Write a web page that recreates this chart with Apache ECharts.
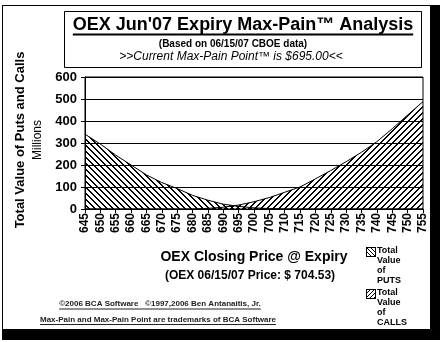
<!DOCTYPE html>
<html>
<head>
<meta charset="utf-8">
<script src="https://cdn.jsdelivr.net/npm/echarts@6/dist/echarts.min.js"></script>
<style>
html,body{margin:0;padding:0;background:#fff;}
#chart{width:442px;height:342px;}
</style>
</head>
<body>
<div id="chart"></div>
<script>
// ---- data ----
const categories = ['645','650','655','660','665','670','675','680','685','690','695','700','705','710','715','720','725','730','735','740','745','750','755'];
const putsValues = [340, 295, 245, 200, 155, 120, 93, 62, 40, 22, 12, 5, 2, 0, 0, 0, 0, 0, 0, 0, 0, 0, 0];
const callsValues = [0, 0, 0, 0, 0, 0, 0, 0, 3, 8, 18, 33, 52, 76, 100, 137, 175, 215, 258, 306, 365, 427, 488];
const yTicks = [0, 100, 200, 300, 400, 500, 600];

const FONT = "'Liberation Sans', Arial, sans-serif";

function hatch(down, size, bg, border, period, thick) {
  const c = document.createElement('canvas');
  c.width = size; c.height = size;
  const g = c.getContext('2d');
  if (bg) { g.fillStyle = bg; g.fillRect(0, 0, size, size); }
  g.fillStyle = '#000';
  const p = period;
  for (let y = 0; y < size; y++) {
    for (let x = 0; x < size; x++) {
      const d = down ? ((x - y) % p + p) % p : ((x + y) % p + p) % p;
      if (d < thick) g.fillRect(x, y, 1, 1);
    }
  }
  if (border) { g.strokeStyle = '#000'; g.lineWidth = 1; g.strokeRect(0.5, 0.5, size - 1, size - 1); }
  return c;
}
const putsPattern = hatch(true, 6, null, false, 6, 2);
const callsPattern = hatch(false, 6, null, false, 6, 2);
const putsIcon = hatch(true, 10, '#fff', true, 4, 1).toDataURL();
const callsIcon = hatch(false, 10, '#fff', true, 4, 1).toDataURL();

const mctx = document.createElement('canvas').getContext('2d');
function tw(text, font) { mctx.font = font; return mctx.measureText(text).width; }

function ctext(text, x, y, font, extra, color) {
  return Object.assign({ type: 'text', z: 10, style: { text: text, x: x, y: y, font: font, fill: color || '#000', align: 'center', verticalAlign: 'middle' } }, extra || {});
}
function underline(text, cx, y, font, w, color) {
  const width = tw(text, font);
  return { type: 'line', z: 10, shape: { x1: cx - width / 2, y1: y, x2: cx + width / 2, y2: y }, style: { stroke: color || '#000', lineWidth: w || 1 } };
}

const titleFont = 'bold 18px ' + FONT;
const titleText = 'OEX Jun\'07 Expiry Max-Pain\u2122 Analysis';
const foot1 = '\u00A92006 BCA Software   \u00A91997,2006 Ben Antanaitis, Jr.';
const foot2 = 'Max-Pain and Max-Pain Point are trademarks of BCA Software';
const footFont = 'bold 8px ' + FONT;

const graphics = [
  { type: 'rect', z: -10, shape: { x: 2, y: 5, width: 438, height: 335 }, style: { fill: '#000' } },
  { type: 'rect', z: -9, shape: { x: 2.5, y: 5.5, width: 428, height: 324 }, style: { fill: '#fff', stroke: '#000', lineWidth: 1 } },
  { type: 'rect', z: 5, shape: { x: 64.5, y: 11.5, width: 357, height: 56 }, style: { fill: '#fff', stroke: '#000', lineWidth: 1 } },
  ctext(titleText, 243, 25, titleFont),
  underline(titleText, 243, 34.5, titleFont, 2),
  ctext('(Based on 06/15/07 CBOE data)', 233, 44, 'bold 10px ' + FONT),
  ctext('>>Current Max-Pain Point\u2122 is $695.00<<', 231, 57, 'italic 12px ' + FONT),
  ctext('Total Value of Puts and Calls', 20, 140, 'bold 13px ' + FONT, { rotation: Math.PI / 2, originX: 20, originY: 140 }),
  ctext('Millions', 38, 140, '12px ' + FONT, { rotation: Math.PI / 2, originX: 38, originY: 140 }),
  ctext('OEX Closing Price @ Expiry', 254, 257, 'bold 14px ' + FONT),
  ctext('(OEX 06/15/07 Price: $ 704.53)', 250, 276, 'bold 12px ' + FONT),
  ctext(foot1, 160, 304, footFont, null, '#222'),
  underline(foot1, 160, 309, footFont, 1, '#222'),
  ctext(foot2, 158, 319.5, footFont, null, '#222'),
  underline(foot2, 158, 324.5, footFont, 1, '#222'),
  { type: 'image', z: 10, style: { image: putsIcon, x: 366, y: 247, width: 10, height: 10 } },
  { type: 'image', z: 10, style: { image: callsIcon, x: 366, y: 289, width: 10, height: 10 } }
];
const legendFont = 'bold 9px ' + FONT;
['Total', 'Value', 'of', 'PUTS'].forEach((t, i) => graphics.push({ type: 'text', z: 10, style: { text: t, x: 377, y: 251 + i * 10, font: legendFont, fill: '#000', align: 'left', verticalAlign: 'middle' } }));
['Total', 'Value', 'of', 'CALLS'].forEach((t, i) => graphics.push({ type: 'text', z: 10, style: { text: t, x: 377, y: 293 + i * 10, font: legendFont, fill: '#000', align: 'left', verticalAlign: 'middle' } }));

const chart = echarts.init(document.getElementById('chart'), null, { renderer: 'canvas' });
chart.setOption({
  animation: false,
  backgroundColor: '#fff',
  grid: { left: 85, top: 77, right: 19, bottom: 133, show: true, borderColor: '#000', borderWidth: 1, backgroundColor: 'transparent' },
  xAxis: {
    type: 'category', data: categories, boundaryGap: false,
    axisLine: { lineStyle: { color: '#000', width: 1 } },
    axisTick: { show: true, interval: 0, length: 4, lineStyle: { color: '#000' } },
    axisLabel: { interval: 0, rotate: 90, margin: 4, color: '#000', fontFamily: FONT, fontWeight: 'bold', fontSize: 12 },
    splitLine: { show: false }
  },
  yAxis: {
    type: 'value', min: yTicks[0], max: yTicks[yTicks.length - 1], interval: 100,
    axisLine: { show: true, lineStyle: { color: '#000', width: 1 } },
    axisTick: { show: true, length: 4, lineStyle: { color: '#000' } },
    axisLabel: { margin: 8, color: '#000', fontFamily: FONT, fontWeight: 'bold', fontSize: 13 },
    splitLine: { show: true, lineStyle: { color: '#000', width: 1 } }
  },
  series: [
    { name: 'Total Value of PUTS', type: 'line', data: putsValues, symbol: 'none', lineStyle: { color: '#000', width: 1 }, areaStyle: { color: { image: putsPattern, repeat: 'repeat' }, opacity: 1 } },
    { name: 'Total Value of CALLS', type: 'line', data: callsValues, symbol: 'none', lineStyle: { color: '#000', width: 1 }, areaStyle: { color: { image: callsPattern, repeat: 'repeat' }, opacity: 1 } }
  ],
  graphic: { elements: graphics }
});
</script>
</body>
</html>
